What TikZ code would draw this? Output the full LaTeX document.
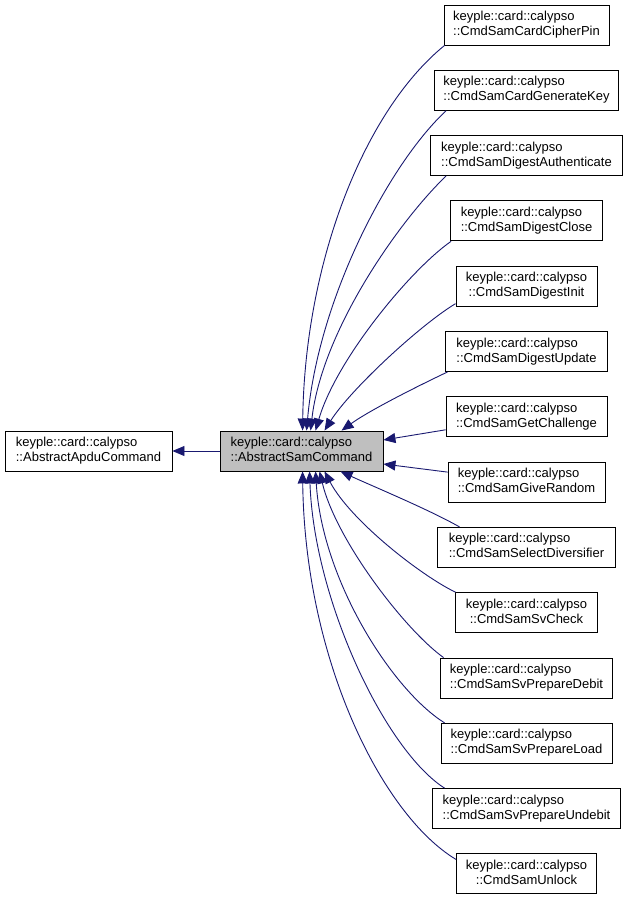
\documentclass[tikz,border=0pt]{standalone}
\usepackage{fontspec}
\setmainfont{Liberation Sans}
\usetikzlibrary{arrows.meta}
\definecolor{edgeblue}{RGB}{25,25,112}
\definecolor{samgray}{RGB}{191,191,191}
\newcommand\dlabel[1]{\begin{tabular}{@{}c@{}}\multicolumn{1}{@{}l@{}}{keyple::card::calypso}\\::#1\end{tabular}}
\tikzset{
  box/.style={draw=black, line width=0.9pt, fill=white, inner sep=0pt, minimum height=40pt,
    font=\fontsize{13}{15}\selectfont},
  edge/.style={draw=edgeblue, line width=0.9pt, -{Triangle[length=12pt,width=10pt]}},
}
\begin{document}
\begin{tikzpicture}[x=1pt,y=-1pt]
\useasboundingbox (0,0) rectangle (628,901);
\node[box, minimum width=167pt] (apdu) at (88.5,451) {\dlabel{AbstractApduCommand}};
\node[box, minimum width=163pt, fill=samgray] (sam) at (301.5,451) {\dlabel{AbstractSamCommand}};
\node[box, minimum width=165pt] (c1) at (526.5,25) {\dlabel{CmdSamCardCipherPin}};
\node[box, minimum width=184pt] (c2) at (526.5,90.3) {\dlabel{CmdSamCardGenerateKey}};
\node[box, minimum width=192pt] (c3) at (526.5,155.6) {\dlabel{CmdSamDigestAuthenticate}};
\node[box, minimum width=152pt] (c4) at (526.5,220.9) {\dlabel{CmdSamDigestClose}};
\node[box, minimum width=141pt] (c5) at (526.5,286.2) {\dlabel{CmdSamDigestInit}};
\node[box, minimum width=162pt] (c6) at (526.5,351.5) {\dlabel{CmdSamDigestUpdate}};
\node[box, minimum width=161pt] (c7) at (526.5,416.8) {\dlabel{CmdSamGetChallenge}};
\node[box, minimum width=157pt] (c8) at (526.5,482.1) {\dlabel{CmdSamGiveRandom}};
\node[box, minimum width=178pt] (c9) at (526.5,547.4) {\dlabel{CmdSamSelectDiversifier}};
\node[box, minimum width=142pt] (c10) at (526.5,612.7) {\dlabel{CmdSamSvCheck}};
\node[box, minimum width=172pt] (c11) at (526.5,678) {\dlabel{CmdSamSvPrepareDebit}};
\node[box, minimum width=171pt] (c12) at (526.5,743.3) {\dlabel{CmdSamSvPrepareLoad}};
\node[box, minimum width=188pt] (c13) at (526.5,808.6) {\dlabel{CmdSamSvPrepareUndebit}};
\node[box, minimum width=140pt] (c14) at (526.5,873.9) {\dlabel{CmdSamUnlock}};
% inheritance to parent
\draw[edge] (sam.west) -- (apdu.east);
% upper children
\draw[edge] ([shift={(1,0)}]c1.south west) .. controls (365,110) and (305,260) .. ([shift={(83,0)}]sam.north west);
\draw[edge] ([shift={(12,0)}]c2.south west) .. controls (388,165) and (318,300) .. ([shift={(87,0)}]sam.north west);
\draw[edge] ([shift={(16,0)}]c3.south west) .. controls (400,220) and (322,330) .. ([shift={(91,0)}]sam.north west);
\draw[edge] ([shift={(1,0)}]c4.south west) .. controls (410,270) and (336,360) .. ([shift={(96,0)}]sam.north west);
\draw[edge] ([shift={(0,-3)}]c5.south west) .. controls (420,325) and (350,390) .. ([shift={(105,0)}]sam.north west);
\draw[edge] ([shift={(2.5,0)}]c6.south west) .. controls (420,385) and (370,410) .. ([shift={(122,0)}]sam.north west);
% side children
\draw[edge] ([shift={(0,13)}]c7.west) -- ([shift={(0,-11)}]sam.east);
\draw[edge] ([shift={(0,-10)}]c8.west) -- ([shift={(0,13)}]sam.east);
% lower children
\draw[edge] ([shift={(22.5,0)}]c9.north west) .. controls (430,510) and (370,485) .. ([shift={(121,0)}]sam.south west);
\draw[edge] ([shift={(0.5,0)}]c10.north west) .. controls (420,575) and (350,520) .. ([shift={(105,0)}]sam.south west);
\draw[edge] ([shift={(3.5,0)}]c11.north west) .. controls (405,630) and (336,540) .. ([shift={(100,0)}]sam.south west);
\draw[edge] ([shift={(4,0)}]c12.north west) .. controls (392,690) and (322,580) .. ([shift={(96,0)}]sam.south west);
\draw[edge] ([shift={(12.5,0)}]c13.north west) .. controls (385,750) and (314,600) .. ([shift={(90,0)}]sam.south west);
\draw[edge] ([shift={(0,6)}]c14.north west) .. controls (382,815) and (305,660) .. ([shift={(83,0)}]sam.south west);
\end{tikzpicture}
\end{document}
